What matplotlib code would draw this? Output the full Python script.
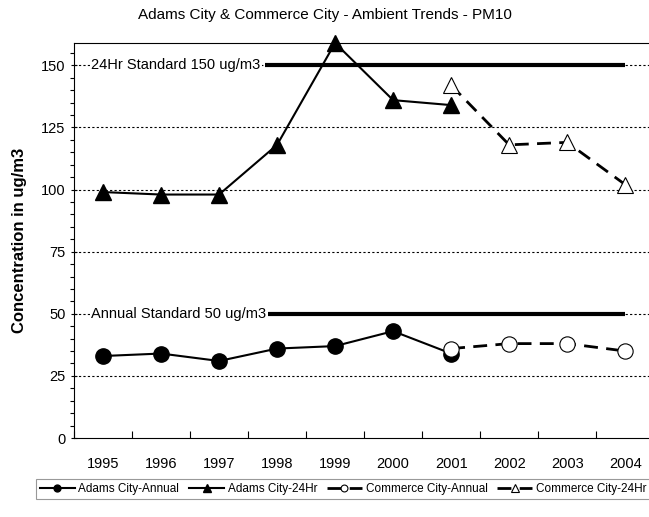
"""
Adams City & Commerce City - PM10 ambient trends
"""

import numpy as np
import matplotlib.pyplot as plt
from matplotlib.ticker import MultipleLocator

plt.rcParams['font.family'] = ['Liberation Sans', 'DejaVu Sans']

years = ['1995', '1996', '1997', '1998', '1999', '2000', '2001', '2002', '2003', '2004']

adams_annual = [33, 34, 31, 36, 37, 43, 34]
adams_24hr = [99, 98, 98, 118, 159, 136, 134]
commerce_annual = [36, 38, 38, 35]
commerce_24hr = [142, 118, 119, 102]

std_24hr = 150
std_annual = 50


def main():
    fig = plt.figure(figsize=(6.49, 5.17), dpi=100)
    ax = fig.add_axes([74 / 649, 79 / 517, 575 / 649, 395 / 517])

    x_adams = np.arange(len(adams_annual))
    x_comm = np.arange(6, 6 + len(commerce_annual))

    for y in [25, 50, 75, 100, 125, 150]:
        ax.axhline(y, color='black', lw=0.8, ls=(0, (2, 2)), zorder=1)

    ax.hlines([std_24hr, std_annual], 2.79, 9, color='black', lw=3, zorder=2)
    ax.text(-0.2, std_24hr, '24Hr Standard 150 ug/m3', fontsize=10.5, va='center',
            ha='left', bbox=dict(fc='white', ec='none', pad=1), zorder=3)
    ax.text(-0.2, std_annual, 'Annual Standard 50 ug/m3', fontsize=10.5, va='center',
            ha='left', bbox=dict(fc='white', ec='none', pad=1), zorder=3)

    ax.plot(x_adams, adams_annual, color='black', lw=1.5, marker='o', ms=11,
            mfc='black', mec='black', zorder=4, clip_on=False, label='Adams City-Annual')
    ax.plot(x_adams, adams_24hr, color='black', lw=1.5, marker='^', ms=12,
            mfc='black', mec='black', zorder=4, clip_on=False, label='Adams City-24Hr')
    ax.plot(x_comm, commerce_annual, color='black', lw=2, ls=(0, (5, 3)), marker='o',
            ms=11, mfc='white', mec='black', mew=0.8, zorder=5,
            label='Commerce City-Annual')
    ax.plot(x_comm, commerce_24hr, color='black', lw=2, ls=(0, (5, 3)), marker='^',
            ms=12, mfc='white', mec='black', mew=0.8, zorder=5,
            label='Commerce City-24Hr')

    ax.set_xlim(-0.5, 9.41)
    ax.set_ylim(0, 159)
    ax.set_xticks(np.arange(len(years)))
    ax.set_xticklabels(years, fontsize=10.5)
    ax.set_xticks(np.arange(-0.5, 9.5, 1), minor=True)
    ax.tick_params(axis='x', which='major', length=0, pad=14)
    ax.tick_params(axis='x', which='minor', length=5, direction='in', width=0.8)
    ax.set_yticks([0, 25, 50, 75, 100, 125, 150])
    ax.yaxis.set_minor_locator(MultipleLocator(5))
    ax.tick_params(axis='y', which='major', length=5, direction='inout', labelsize=10.5, width=0.8)
    ax.tick_params(axis='y', which='minor', length=3, direction='out', width=0.8)
    ax.spines['right'].set_visible(False)
    for s in ax.spines.values():
        s.set_linewidth(0.8)

    ax.set_ylabel('Concentration in ug/m3', fontsize=12, fontweight='bold', labelpad=10)
    fig.text(0.5, 1 - 15 / 517, 'Adams City & Commerce City - Ambient Trends - PM10',
             ha='center', va='center', fontsize=11)

    leg = fig.legend(loc='center', bbox_to_anchor=(343 / 649, 1 - 489 / 517), ncol=4,
                     fontsize=8.5, frameon=True, fancybox=False, edgecolor='gray',
                     markerscale=0.45, handlelength=3, columnspacing=0.8,
                     handletextpad=0.3, borderpad=0.3)
    leg.get_frame().set_linewidth(0.8)

    fig.savefig('out.png', dpi=100)


if __name__ == '__main__':
    main()
